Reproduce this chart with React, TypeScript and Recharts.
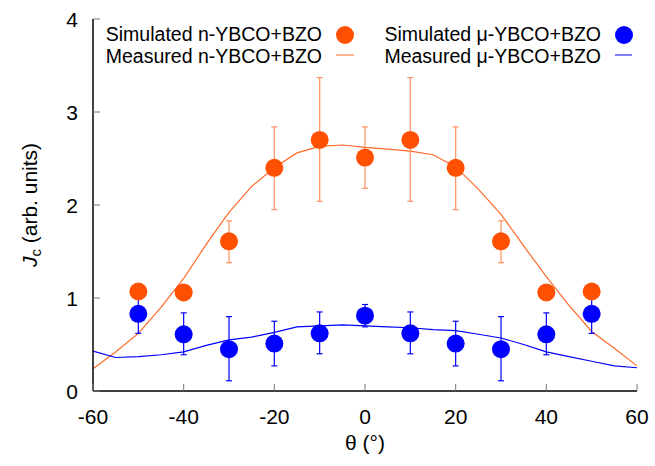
import React from 'react'
import {
  ComposedChart,
  XAxis,
  YAxis,
  Line,
  Scatter,
  ErrorBar,
} from 'recharts'

// simulated points (every 10 degrees)
const simAngles = [-50, -40, -30, -20, -10, 0, 10, 20, 30, 40, 50]
const nSim = [1.07, 1.06, 1.61, 2.40, 2.70, 2.51, 2.70, 2.40, 1.61, 1.06, 1.07]
const nSimLow = [1.07, 1.06, 1.38, 1.95, 2.04, 2.18, 2.04, 1.95, 1.38, 1.06, 1.07]
const nSimHigh = [1.07, 1.06, 1.83, 2.84, 3.37, 2.84, 3.37, 2.84, 1.83, 1.06, 1.07]
const muSim = [0.83, 0.61, 0.45, 0.51, 0.62, 0.81, 0.62, 0.51, 0.45, 0.61, 0.83]
const muSimLow = [0.62, 0.39, 0.11, 0.27, 0.40, 0.69, 0.40, 0.27, 0.11, 0.39, 0.62]
const muSimHigh = [1.04, 0.84, 0.80, 0.75, 0.85, 0.93, 0.85, 0.75, 0.80, 0.84, 1.04]

// measured curves
const measAngles = [-60, -55, -50, -45, -40, -35, -30, -25, -20, -15, -10, -5, 0, 5, 10, 15, 20, 25, 30, 35, 40, 45, 50, 55, 60]
const nMeas = [0.24, 0.42, 0.62, 0.90, 1.21, 1.58, 1.92, 2.20, 2.40, 2.56, 2.63, 2.645, 2.62, 2.60, 2.58, 2.54, 2.41, 2.17, 1.90, 1.56, 1.23, 0.92, 0.64, 0.46, 0.27]
const muMeas = [0.43, 0.36, 0.37, 0.39, 0.42, 0.49, 0.55, 0.58, 0.63, 0.69, 0.70, 0.71, 0.70, 0.69, 0.68, 0.66, 0.65, 0.61, 0.57, 0.50, 0.42, 0.37, 0.32, 0.27, 0.25]

const xTicks = [-60, -40, -20, 0, 20, 40, 60]
const yTicks = [0, 1, 2, 3, 4]

const ORANGE = '#ff4f00'
const ORANGE_LINE = '#ff6a2a'
const ORANGE_ERR = '#ff9060'
const BLUE = '#0000ff'
const FONT = '"Liberation Sans", Arial, sans-serif'

const nSimData = simAngles.map((a, i) => ({
  x: a,
  y: nSim[i],
  err: [Number((nSim[i] - nSimLow[i]).toFixed(2)), Number((nSimHigh[i] - nSim[i]).toFixed(2))],
}))
const muSimData = simAngles.map((a, i) => ({
  x: a,
  y: muSim[i],
  err: [Number((muSim[i] - muSimLow[i]).toFixed(2)), Number((muSimHigh[i] - muSim[i]).toFixed(2))],
}))
const nMeasData = measAngles.map((a, i) => ({ x: a, y: nMeas[i] }))
const muMeasData = measAngles.map((a, i) => ({ x: a, y: muMeas[i] }))

const TICK = '#777'

const BottomTick = (props: any) => {
  const { x, y, payload } = props
  return (
    <g>
      <line x1={x} x2={x} y1={y} y2={y - 7} stroke={TICK} />
      <text x={x} y={y + 33} textAnchor="middle" fontSize={21} fontFamily={FONT} fill="#000">
        {payload.value}
      </text>
    </g>
  )
}
const TopTick = (props: any) => {
  const { x, y } = props
  return <line x1={x} x2={x} y1={y} y2={y + 7} stroke={TICK} />
}
const LeftTick = (props: any) => {
  const { x, y, payload } = props
  return (
    <g>
      <line x1={x} x2={x + 7} y1={y} y2={y} stroke={TICK} />
      <text x={x - 15} y={y + 7.5} textAnchor="end" fontSize={21} fontFamily={FONT} fill="#000">
        {payload.value}
      </text>
    </g>
  )
}
const RightTick = (props: any) => {
  const { x, y } = props
  return <line x1={x} x2={x - 7} y1={y} y2={y} stroke={TICK} />
}

const LegendBox = () => (
  <svg width={655} height={80} style={{ position: 'absolute', left: 0, top: 0 }}>
    <g fontFamily={FONT} fontSize={19.5} fill="#000">
      <text x={322} y={41} textAnchor="end">Simulated n-YBCO+BZO</text>
      <circle cx={345} cy={35} r={9} fill={ORANGE} />
      <text x={322} y={63} textAnchor="end">Measured n-YBCO+BZO</text>
      <line x1={336} x2={354} y1={55} y2={55} stroke={ORANGE_LINE} />
      <text x={601} y={41} textAnchor="end">Simulated μ-YBCO+BZO</text>
      <circle cx={624} cy={35} r={9} fill={BLUE} />
      <text x={601} y={63} textAnchor="end">Measured μ-YBCO+BZO</text>
      <line x1={615} x2={632} y1={55} y2={55} stroke={BLUE} />
    </g>
  </svg>
)

export default function App() {
  return (
    <div style={{ position: 'absolute', left: 0, top: 0, width: 655, height: 466, background: '#fff' }}>
      <ComposedChart width={655} height={466} margin={{ top: 19, right: 18, bottom: 0, left: 0 }}>
        <XAxis
          xAxisId="b"
          dataKey="x"
          type="number"
          domain={[-60, 60]}
          ticks={xTicks}
          height={75}
          tickSize={0}
          tickMargin={0}
          tickLine={false}
          axisLine={{ stroke: '#000', strokeWidth: 1.5 }}
          tick={<BottomTick />}
          allowDataOverflow
        />
        <XAxis
          xAxisId="t"
          orientation="top"
          type="number"
          domain={[-60, 60]}
          ticks={xTicks}
          height={0}
          tickSize={0}
          tickMargin={0}
          tickLine={false}
          axisLine={{ stroke: '#000', strokeWidth: 1.5 }}
          tick={<TopTick />}
          allowDataOverflow
        />
        <YAxis
          yAxisId="l"
          type="number"
          domain={[0, 4]}
          ticks={yTicks}
          width={93}
          tickSize={0}
          tickMargin={0}
          tickLine={false}
          axisLine={{ stroke: '#000', strokeWidth: 1.5 }}
          tick={<LeftTick />}
          allowDataOverflow
          label={() => (
            <text
              transform="translate(37,205) rotate(-90)"
              textAnchor="middle"
              fontFamily={FONT}
              fontSize={21}
              fill="#000"
            >
              <tspan fontStyle="italic">J</tspan>
              <tspan fontSize={15} dy={4}>c</tspan>
              <tspan dy={-4}> (arb. units)</tspan>
            </text>
          )}
        />
        <YAxis
          yAxisId="r"
          orientation="right"
          type="number"
          domain={[0, 4]}
          ticks={yTicks}
          width={0}
          tickSize={0}
          tickMargin={0}
          tickLine={false}
          axisLine={{ stroke: '#000', strokeWidth: 1.5 }}
          tick={<RightTick />}
          allowDataOverflow
        />
        <Line
          xAxisId="b"
          yAxisId="l"
          data={nMeasData}
          dataKey="y"
          type="linear"
          stroke={ORANGE_LINE}
          strokeWidth={1.2}
          dot={false}
          isAnimationActive={false}
        />
        <Line
          xAxisId="b"
          yAxisId="l"
          data={muMeasData}
          dataKey="y"
          type="linear"
          stroke={BLUE}
          strokeWidth={1.2}
          dot={false}
          isAnimationActive={false}
        />
        <Scatter
          xAxisId="b"
          yAxisId="l"
          data={nSimData}
          dataKey="y"
          fill={ORANGE}
          shape={(p: any) => <circle cx={p.cx} cy={p.cy} r={9} fill={ORANGE} />}
          isAnimationActive={false}
        >
          <ErrorBar dataKey="err" direction="y" width={3} stroke={ORANGE_ERR} strokeWidth={1.2} isAnimationActive={false} />
        </Scatter>
        <Scatter
          xAxisId="b"
          yAxisId="l"
          data={muSimData}
          dataKey="y"
          fill={BLUE}
          shape={(p: any) => <circle cx={p.cx} cy={p.cy} r={9} fill={BLUE} />}
          isAnimationActive={false}
        >
          <ErrorBar dataKey="err" direction="y" width={3} stroke={BLUE} strokeWidth={1.2} isAnimationActive={false} />
        </Scatter>
      </ComposedChart>
      <svg width={655} height={466} style={{ position: 'absolute', left: 0, top: 0, pointerEvents: 'none' }}>
        <text x={365} y={450} textAnchor="middle" fontFamily={FONT} fontSize={21} fill="#000">
          θ (°)
        </text>
      </svg>
      <LegendBox />
    </div>
  )
}
